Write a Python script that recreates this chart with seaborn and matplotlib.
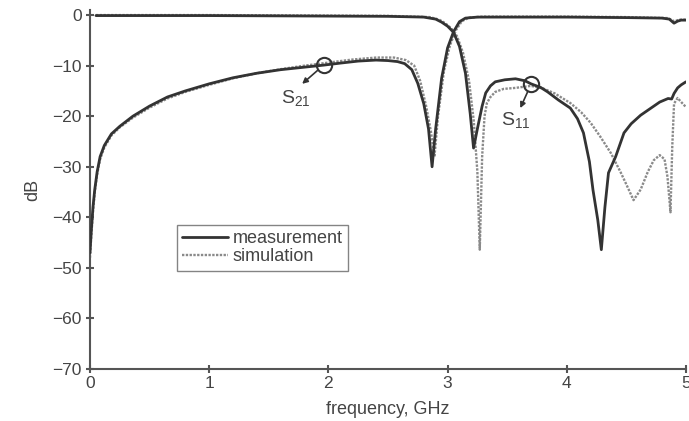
import numpy as np
import pandas as pd
import matplotlib
matplotlib.use("Agg")
import matplotlib.pyplot as plt
import seaborn as sns
from matplotlib.lines import Line2D

# ---- data ----
f21_meas = [0.0, 0.01, 0.025, 0.04, 0.06, 0.085, 0.12, 0.18, 0.25, 0.36, 0.5, 0.65, 0.8, 1.0, 1.2,
            1.4, 1.6, 1.8, 1.96, 2.1, 2.25, 2.4, 2.5, 2.58, 2.64, 2.7, 2.75, 2.8, 2.84, 2.87, 2.9,
            2.95, 3.0, 3.05, 3.1, 3.15, 3.25, 3.5, 4.0, 4.5, 4.8, 4.86, 4.9, 4.93, 4.96, 5.0]
s21_meas = [-47, -43, -38, -34.5, -31, -28, -25.8, -23.5, -22, -20, -18, -16.2, -15, -13.6, -12.4,
            -11.5, -10.8, -10.3, -9.9, -9.5, -9.1, -8.9, -9.0, -9.2, -9.6, -10.8, -13.5, -17.5, -22.5,
            -30, -22.5, -12.5, -6.5, -3.3, -1.3, -0.6, -0.4, -0.4, -0.4, -0.5, -0.6, -0.8, -1.6,
            -1.2, -1.0, -1.0]

f21_sim = [0.0, 0.01, 0.025, 0.04, 0.06, 0.085, 0.12, 0.18, 0.25, 0.36, 0.5, 0.65, 0.8, 1.0, 1.2,
           1.4, 1.6, 1.8, 2.0, 2.2, 2.4, 2.55, 2.65, 2.72, 2.77, 2.82, 2.86, 2.89, 2.92, 2.97, 3.02,
           3.07, 3.12, 3.18, 3.3, 3.6, 4.0, 4.5, 4.85, 4.9, 4.95, 5.0]
s21_sim = [-48, -44, -39, -35, -31.5, -28.5, -26.2, -23.8, -22.2, -20.3, -18.3, -16.5, -15.2, -13.8,
           -12.5, -11.5, -10.7, -10.0, -9.4, -8.8, -8.4, -8.4, -8.9, -10.0, -13.0, -18.0, -23, -28,
           -20, -11, -6, -3, -1.2, -0.5, -0.3, -0.3, -0.3, -0.4, -0.6, -1.2, -0.9, -0.9]

f11_meas = [0.05, 0.5, 1.0, 1.5, 2.0, 2.5, 2.8, 2.9, 2.95, 3.0, 3.05, 3.1, 3.15, 3.19, 3.218, 3.25,
            3.29, 3.32, 3.36, 3.4, 3.48, 3.57, 3.65, 3.7, 3.78, 3.84, 3.93, 4.03, 4.09, 4.14, 4.19,
            4.22, 4.26, 4.29, 4.32, 4.35, 4.41, 4.48, 4.54, 4.62, 4.7, 4.78, 4.85, 4.88, 4.9, 4.93,
            4.96, 5.0]
s11_meas = [-0.1, -0.1, -0.1, -0.15, -0.2, -0.25, -0.4, -0.8, -1.4, -2.2, -3.4, -6.2, -11.5, -19.5,
            -26.3, -22.5, -18, -15.4, -14, -13.2, -12.8, -12.6, -13.0, -13.6, -14.3, -15.2, -16.8,
            -18.4, -20.5, -23.3, -29, -34.6, -40.5, -46.4, -38, -31.2, -28, -23.3, -21.5, -19.8,
            -18.5, -17.2, -16.5, -16.6, -15.5, -14.4, -13.8, -13.2]

f11_sim = [0.05, 0.5, 1.0, 1.5, 2.0, 2.5, 2.85, 2.93, 2.98, 3.03, 3.08, 3.13, 3.18, 3.22, 3.25, 3.27,
           3.29, 3.31, 3.33, 3.36, 3.4, 3.47, 3.57, 3.7, 3.8, 3.9, 4.03, 4.12, 4.2, 4.28, 4.37, 4.45,
           4.5, 4.56, 4.62, 4.68, 4.73, 4.78, 4.82, 4.845, 4.87, 4.885, 4.9, 4.93, 4.96, 5.0]
s11_sim = [0.0, 0.0, 0.0, -0.05, -0.1, -0.15, -0.4, -0.9, -1.6, -2.6, -4.2, -7.5, -13, -21, -31,
           -46.4, -28, -20, -17.4, -16.2, -15.2, -14.6, -14.4, -14.0, -14.5, -15.5, -17.4, -19.2,
           -21.3, -24, -27.3, -31, -33.5, -36.6, -34.5, -31, -28.7, -27.7, -28.5, -32, -39, -26,
           -17.5, -16.4, -17.2, -18.2]

x_ticks = [0, 1, 2, 3, 4, 5]
y_ticks = [-70, -60, -50, -40, -30, -20, -10, 0]
legend_labels = ["measurement", "simulation"]
x_label = "frequency, GHz"
y_label = "dB"

# annotation anchors (marker circle, arrow tip, label)
ann_s21 = dict(pt=(1.96, -9.9), tip=(1.78, -13.6), txt=(1.60, -16.4), label=r"$\mathrm{S}_{21}$")
ann_s11 = dict(pt=(3.70, -13.7), tip=(3.61, -18.4), txt=(3.45, -20.8), label=r"$\mathrm{S}_{11}$")

# ---- build table ----
def frame(f, v, param, src):
    return pd.DataFrame({"f": f, "dB": v, "param": param, "source": src})

df = pd.concat([
    frame(f21_meas, s21_meas, "S21", "measurement"),
    frame(f21_sim, s21_sim, "S21", "simulation"),
    frame(f11_meas, s11_meas, "S11", "measurement"),
    frame(f11_sim, s11_sim, "S11", "simulation"),
], ignore_index=True)

sns.set_theme(style="ticks")
plt.rcParams["font.family"] = ["Liberation Sans", "DejaVu Sans"]
plt.rcParams["mathtext.fontset"] = "custom"
plt.rcParams["mathtext.rm"] = "Liberation Sans"
plt.rcParams["mathtext.it"] = "Liberation Sans"

fig = plt.figure(figsize=(6.89, 4.21), dpi=100)
ax = fig.add_axes([0.1306, 0.1235, 0.865, 0.8527])

styles = {"measurement": dict(color="#333333", lw=2.0, ls="-"),
          "simulation": dict(color="#8a8a8a", lw=1.7, ls=(0, (1, 0.6)))}

for (param, src), sub in df.groupby(["param", "source"], sort=False):
    st = styles[src]
    sns.lineplot(data=sub, x="f", y="dB", ax=ax, sort=False, estimator=None,
                 color=st["color"], linewidth=st["lw"], linestyle=st["ls"], legend=False,
                 zorder=3 if src == "measurement" else 2)

ax.set_xlim(0, 5)
ax.set_ylim(-70, 1)
ax.set_xticks(x_ticks)
ax.set_yticks(y_ticks)
ax.set_yticklabels([f"\u2212{abs(v)}" if v < 0 else str(v) for v in y_ticks])
ax.set_xlabel(x_label, fontsize=13, color="#444444", labelpad=7)
ax.set_ylabel(y_label, fontsize=13, color="#444444", labelpad=8)
ax.tick_params(axis="both", direction="inout", length=6, width=1.5, colors="#555555",
               labelsize=12.5, labelcolor="#444444")
ax.tick_params(axis="y", pad=3)
ax.tick_params(axis="x", pad=2)
sns.despine(ax=ax)
for s in ["left", "bottom"]:
    ax.spines[s].set_color("#555555")
    ax.spines[s].set_linewidth(1.5)

# annotations
for a in (ann_s21, ann_s11):
    ax.plot(*a["pt"], marker="o", ms=11, mfc="none", mec="#333333", mew=1.5, zorder=5)
    ax.annotate("", xy=a["tip"], xytext=a["pt"],
                arrowprops=dict(arrowstyle="-|>", color="#333333", lw=1.2,
                                mutation_scale=8, shrinkA=6, shrinkB=0))
    ax.text(a["txt"][0], a["txt"][1], a["label"], fontsize=14, color="#444444",
            ha="left", va="center")

handles = [Line2D([], [], color=styles[s]["color"], lw=styles[s]["lw"], ls=styles[s]["ls"])
           for s in legend_labels]
leg = ax.legend(handles, legend_labels, loc="upper left", bbox_to_anchor=(0.146, 0.401),
                borderaxespad=0, frameon=True, fancybox=False, fontsize=13, handlelength=2.5,
                handletextpad=0.3, borderpad=0.3, labelspacing=0.05)
leg.get_frame().set_edgecolor("#666666")
leg.get_frame().set_linewidth(1.0)
for t in leg.get_texts():
    t.set_color("#444444")

fig.savefig("out.png", dpi=100)
